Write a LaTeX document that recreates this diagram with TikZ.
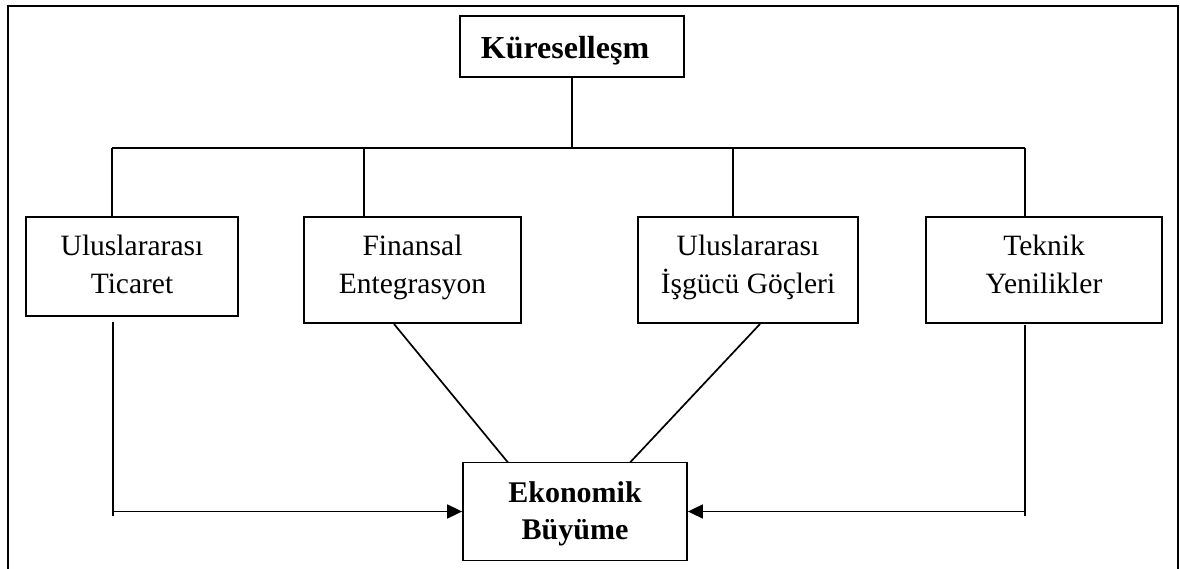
\documentclass[tikz,border=0pt]{standalone}
\usepackage{fontspec}
\setmainfont{Liberation Serif}
\usetikzlibrary{arrows.meta}
\begin{document}
\begin{tikzpicture}[x=1pt,y=-1pt,
  box/.style={draw, line width=1.8pt, inner sep=0pt},
  txt/.style={anchor=north, inner sep=0pt, align=center,
    font=\fontsize{29.5}{38}\selectfont},
  boldtxt/.style={txt, font=\bfseries\fontsize{30}{37}\selectfont},
  conn/.style={line width=1.7pt},
  arr/.style={conn, -{Triangle[length=15pt,width=14pt]}},
  frame/.style={line width=2.3pt}]
\useasboundingbox (0,0) rectangle (1180,569);
% outer frame (open at the bottom)
\coordinate (fa) at (8,569);
\coordinate (fb) at (8,6);
\coordinate (fc) at (1178,6);
\coordinate (fd) at (1178,569);
\draw[frame] (fa) -- (fb) -- (fc) -- (fd);

% boxes
\node[box, minimum width=224pt, minimum height=61pt] (k) at (572,46.5) {};
\node[box, minimum width=212pt, minimum height=99pt] (t1) at (132,266.5) {};
\node[box, minimum width=217pt, minimum height=106pt] (t2) at (412.5,270) {};
\node[box, minimum width=220pt, minimum height=106pt] (t3) at (748,270) {};
\node[box, minimum width=236pt, minimum height=106pt] (t4) at (1044,270) {};
\node[box, minimum width=224pt, minimum height=98pt] (e) at (575,511.5) {};

% texts
\node[boldtxt, font=\bfseries\fontsize{32}{37}\selectfont] (kt) at (565,35.7) {Küreselleşm};
\node[txt] (t1t) at (132,235) {Uluslararası\\Ticaret};
\node[txt] (t2t) at (412.5,235) {Finansal\\Entegrasyon};
\node[txt] (t3t) at (748,235) {Uluslararası\\İşgücü Göçleri};
\node[txt] (t4t) at (1044,235) {Teknik\\Yenilikler};
\node[boldtxt] (et) at (575,481.5) {Ekonomik\\Büyüme};

% bus
\coordinate (b1) at (112,148);
\coordinate (b2) at (364,148);
\coordinate (b3) at (733,148);
\coordinate (b4) at (1025,148);
\draw[conn] (k.south) -- (k.south |- b1);
\draw[conn] (b1) -- (b4);
\draw[conn] (b1) -- (b1 |- t1.north);
\draw[conn] (b2) -- (b2 |- t2.north);
\draw[conn] (b3) -- (b3 |- t3.north);
\draw[conn] (b4) -- (b4 |- t4.north);

% left feed
\coordinate (l1) at (113,322);
\coordinate (l1e) at (113,515.5);
\draw[conn] (l1) -- (l1e);
\draw[arr] (e.west -| l1) -- (e.west);

% right feed
\coordinate (r1) at (1025,325);
\coordinate (r1e) at (1025,516);
\draw[conn] (r1) -- (r1e);
\draw[arr] (e.east -| r1) -- (e.east);

% diagonals
\coordinate (f1) at (394,324);
\coordinate (f2) at (508,462.5);
\draw[conn] (f1) -- (f2);
\coordinate (g1) at (760,324);
\coordinate (g2) at (630,462.5);
\draw[conn] (g1) -- (g2);
\end{tikzpicture}
\end{document}
